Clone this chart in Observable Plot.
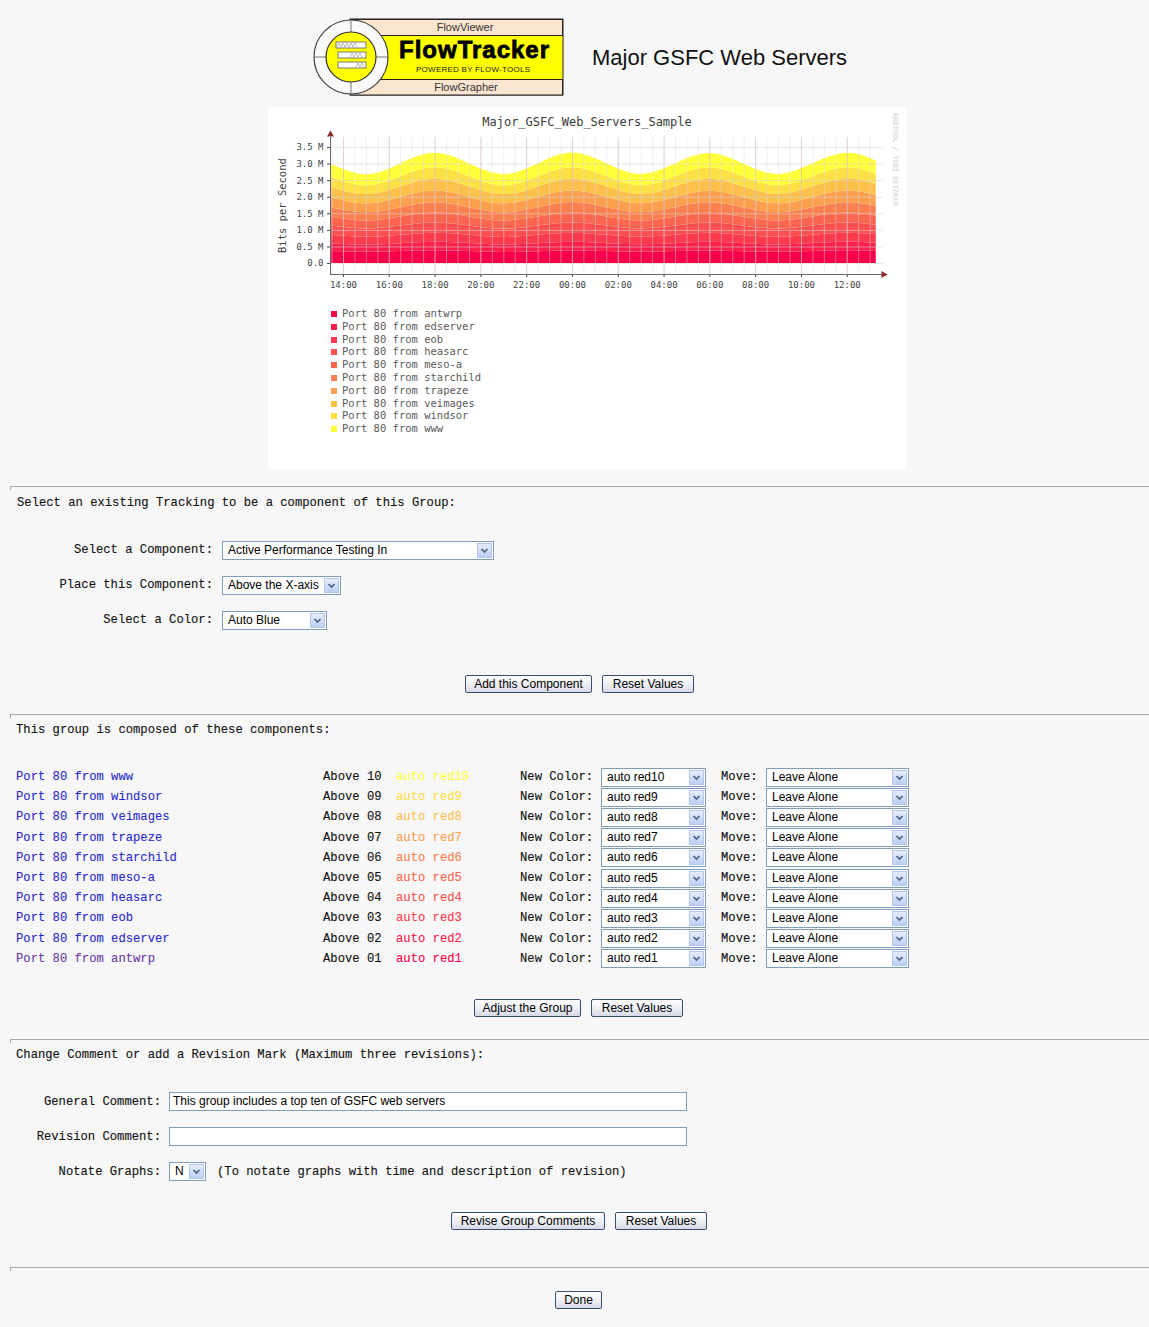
<!DOCTYPE html>
<html><head><meta charset="utf-8">
<script src="https://cdn.jsdelivr.net/npm/d3@7"></script>
<script src="https://cdn.jsdelivr.net/npm/@observablehq/plot@0.6"></script>
<style>
body{margin:0;background:#f7f7f7;width:1149px;height:1327px;position:relative;overflow:hidden;font-family:"Liberation Sans",Arial,sans-serif}
.abs{position:absolute}
.mono{position:absolute;font-family:"Liberation Mono","Courier New",monospace;font-size:12.2px;line-height:14px;color:#111;white-space:pre;-webkit-text-stroke:0.12px}
.hr{position:absolute;left:10px;width:1139px;height:3px;border-top:1px solid #a8a8a8;border-left:1px solid #a8a8a8}
.sel{position:absolute;height:19px;box-sizing:border-box;border:1px solid #7f9db9;background:#fff;font-size:12px;line-height:17px;color:#000}
.sel .t{position:absolute;left:5px;top:0;white-space:pre}
.sel .arr{position:absolute;right:1px;top:1px;width:15px;height:15px;background:linear-gradient(#e6edfc,#bccff5);border:1px solid #b4c6ec;box-sizing:border-box}
.btn{position:absolute;height:18px;box-sizing:border-box;border:1px solid #3c4c6c;border-radius:2px;background:linear-gradient(#ffffff,#eceef4 55%,#d6dae6);font-size:12px;line-height:16px;text-align:center;color:#000;white-space:pre}
.inp{position:absolute;height:19px;box-sizing:border-box;border:1px solid #7f9db9;background:#fff;font-size:12px;line-height:17px;padding-left:3px;white-space:pre;color:#000}
#chartbox{position:absolute;left:268px;top:107px;width:638px;height:363px;background:#fff}
.leg{position:absolute;left:63px;font-family:"DejaVu Sans Mono",monospace;font-size:10.5px;line-height:12.8px;color:#5a5a5a;white-space:pre}
.leg i{display:inline-block;width:6px;height:6px;margin-right:5px;vertical-align:0px}
</style></head><body>
<svg class="abs" style="left:300px;top:10px" width="280" height="95">
  <rect x="50" y="9" width="213" height="76" fill="#ffff00" stroke="#222" stroke-width="1"/>
  <rect x="50.5" y="9.5" width="212" height="16" fill="#fde6cf" stroke="#222" stroke-width="1"/>
  <rect x="50.5" y="69.5" width="212" height="15.5" fill="#fde6cf" stroke="#222" stroke-width="1"/>
  <text x="165" y="21" text-anchor="middle" font-family="Liberation Sans" font-size="11" fill="#333">FlowViewer</text>
  <text x="174" y="48" text-anchor="middle" font-family="Liberation Sans" font-weight="bold" font-size="24" fill="#000" stroke="#000" stroke-width="0.8" textLength="150">FlowTracker</text>
  <text x="173" y="62" text-anchor="middle" font-family="Liberation Sans" font-size="8" fill="#222" textLength="114">POWERED BY FLOW-TOOLS</text>
  <text x="166" y="81" text-anchor="middle" font-family="Liberation Sans" font-size="11" fill="#333">FlowGrapher</text>
  <circle cx="51" cy="47" r="37" fill="#fafafa" stroke="#444" stroke-width="1.2"/>
  <line x1="51" y1="10" x2="51" y2="22" stroke="#777"/>
  <line x1="51" y1="72" x2="51" y2="84" stroke="#777"/>
  <line x1="14" y1="47" x2="26" y2="47" stroke="#777"/>
  <line x1="76" y1="47" x2="88" y2="47" stroke="#777"/>
  <circle cx="51" cy="47" r="25" fill="#ffff00" stroke="#333" stroke-width="1.2"/>
  <rect x="36" y="32" width="30" height="6" fill="#fff" stroke="#777"/>
  <rect x="38" y="42" width="28" height="6" fill="#fff" stroke="#777"/>
  <rect x="38" y="52" width="28" height="6" fill="#fff" stroke="#777"/>
  <polyline points="37,37 39,33 41,37 43,33 45,37 47,33 49,37 51,33 53,37 55,33 57,37" fill="none" stroke="#999" stroke-width="0.7"/>
  <polyline points="50,47 52,43 54,47 56,43 58,47 60,43 62,47" fill="none" stroke="#999" stroke-width="0.7"/>
  <polyline points="56,57 58,53 60,57 62,53 64,57" fill="none" stroke="#999" stroke-width="0.7"/>
</svg>
<div class="abs" style="left:592px;top:44px;font-size:22px;line-height:28px;color:#111">Major GSFC Web Servers</div>

<div id="chartbox">
  <div class="abs" style="left:0;top:7px;width:638px;text-align:center;font-family:'DejaVu Sans Mono',monospace;font-size:12px;line-height:16px;color:#3a3a3a">Major_GSFC_Web_Servers_Sample</div>
  <div class="abs" style="left:6px;top:44px;width:16px;height:110px;font-family:'DejaVu Sans Mono',monospace;font-size:10.5px;color:#444;writing-mode:vertical-rl;transform:rotate(180deg);text-align:center;line-height:16px">Bits per Second</div>
  <div class="abs" style="left:622px;top:6px;font-family:'DejaVu Sans Mono',monospace;font-size:7px;color:#cfcfcf;writing-mode:vertical-rl;line-height:9px">RRDTOOL / TOBI OETIKER</div>
  <div id="plot" class="abs" style="left:0;top:23px"></div>
  <div id="legend" class="abs" style="left:0;top:200px"></div>
</div>
<div id="form"></div>

<script>
// ---------- data ----------
const servers = ["antwrp","edserver","eob","heasarc","meso-a","starchild","trapeze","veimages","windsor","www"];
const colorNames = ["auto red1","auto red2","auto red3","auto red4","auto red5","auto red6","auto red7","auto red8","auto red9","auto red10"];
const colors = ["#F8004A","#F9204C","#FA3A4E","#FB504F","#FB6650","#FB8050","#FCA050","#FCC04B","#FDE044","#FFFF3A"];
const times = ["2011-03-01T13:26","2011-03-01T15:00","2011-03-01T16:30","2011-03-01T18:00","2011-03-01T19:30","2011-03-01T21:00","2011-03-01T22:30","2011-03-02T00:00","2011-03-02T01:30","2011-03-02T03:00","2011-03-02T04:30","2011-03-02T06:00","2011-03-02T07:30","2011-03-02T09:00","2011-03-02T10:30","2011-03-02T12:00","2011-03-02T13:16"];
// Mbit/s per server, bottom layer first
const antwrp    = [0.36,0.34,0.36,0.385,0.36,0.335,0.355,0.38,0.36,0.34,0.36,0.38,0.355,0.34,0.36,0.385,0.365];
const edserver  = [0.24,0.22,0.24,0.26,0.245,0.22,0.24,0.26,0.24,0.225,0.24,0.26,0.24,0.22,0.245,0.26,0.245];
const eob       = [0.25,0.23,0.25,0.27,0.25,0.23,0.255,0.275,0.25,0.23,0.25,0.27,0.25,0.235,0.25,0.27,0.255];
const heasarc   = [0.28,0.25,0.28,0.31,0.28,0.25,0.28,0.31,0.285,0.25,0.28,0.31,0.28,0.25,0.28,0.31,0.29];
const mesoA     = [0.27,0.24,0.27,0.30,0.27,0.245,0.27,0.30,0.27,0.24,0.275,0.30,0.27,0.24,0.27,0.30,0.28];
const starchild = [0.28,0.25,0.28,0.31,0.28,0.25,0.28,0.315,0.28,0.25,0.28,0.31,0.28,0.25,0.28,0.31,0.29];
const trapeze   = [0.31,0.27,0.31,0.35,0.31,0.27,0.31,0.35,0.31,0.27,0.31,0.35,0.31,0.27,0.31,0.35,0.32];
const veimages  = [0.32,0.28,0.32,0.36,0.32,0.28,0.32,0.36,0.32,0.28,0.32,0.36,0.32,0.28,0.32,0.36,0.33];
const windsor   = [0.30,0.26,0.30,0.34,0.30,0.26,0.30,0.34,0.30,0.26,0.30,0.34,0.30,0.26,0.30,0.34,0.31];
const www       = [0.39,0.34,0.39,0.44,0.39,0.34,0.39,0.44,0.39,0.34,0.39,0.44,0.39,0.34,0.39,0.44,0.40];
const series = [antwrp,edserver,eob,heasarc,mesoA,starchild,trapeze,veimages,windsor,www];
const xTicks = ["2011-03-01T14:00","2011-03-01T16:00","2011-03-01T18:00","2011-03-01T20:00","2011-03-01T22:00","2011-03-02T00:00","2011-03-02T02:00","2011-03-02T04:00","2011-03-02T06:00","2011-03-02T08:00","2011-03-02T10:00","2011-03-02T12:00"];
const xAxisEnd = "2011-03-02T13:35";
const yTicks = [0,0.5,1,1.5,2,2.5,3,3.5];
const yDomain = [-0.33, 3.8];

// ---------- chart ----------
const P = s => new Date(s + ":00");
const rows = [];
series.forEach((vals,i) => vals.forEach((v,j) => rows.push({server: servers[i], time: P(times[j]), value: v})));
const t0 = P(times[0]), tEnd = P(xAxisEnd);
const majorTicks = xTicks.map(P);
const minorGrid = d3.timeMinute.every(30).range(P("2011-03-01T13:30"), P("2011-03-02T13:10"));

const chart = Plot.plot({
  width: 638, height: 170,
  marginLeft: 62, marginRight: 23, marginTop: 7, marginBottom: 26,
  style: {fontFamily: "DejaVu Sans Mono, monospace", fontSize: "9px", color: "#444", background: "transparent", overflow: "visible"},
  x: {type: "time", domain: [t0, tEnd], ticks: majorTicks, tickFormat: d3.timeFormat("%H:%M"), tickSize: 3, tickPadding: 4, label: null},
  y: {domain: yDomain, ticks: yTicks, tickFormat: d => d === 0 ? "0.0" : d.toFixed(1) + " M", tickSize: 3, tickPadding: 4, label: null},
  color: {domain: servers, range: colors},
  marks: [
    Plot.areaY(rows, {x: "time", y: "value", z: "server", fill: "server", curve: "natural", order: servers}),
    Plot.ruleX(minorGrid, {stroke: "#dcdcdc", strokeOpacity: 0.45}),
    Plot.ruleX(majorTicks, {stroke: "#dcb4b4", strokeOpacity: 0.5}),
    Plot.ruleY(yTicks, {stroke: "#d6d6d6", strokeOpacity: 0.55}),
    Plot.ruleY([yDomain[0]], {stroke: "#666", strokeWidth: 1}),
    Plot.ruleX([t0], {stroke: "#666", strokeWidth: 1}),
    Plot.dot([{x: tEnd, y: yDomain[0]}], {x: "x", y: "y", symbol: "triangle", rotate: 90, r: 2.6, fill: "#8b2a2a", stroke: null}),
    Plot.dot([{x: t0, y: yDomain[1]}], {x: "x", y: "y", symbol: "triangle", rotate: 0, r: 2.6, dy: -3, fill: "#8b2a2a", stroke: null})
  ]
});
document.getElementById("plot").appendChild(chart);

// legend
const leg = document.getElementById("legend");
servers.forEach((s,i) => {
  const d = document.createElement("div");
  d.className = "leg";
  d.style.top = (i * 12.8) + "px";
  d.innerHTML = `<i style="background:${colors[i]}"></i>Port 80 from ${s}`;
  leg.appendChild(d);
});

// ---------- form ----------
const form = document.getElementById("form");
const chev = '<svg width="13" height="13" style="position:absolute;left:0;top:0"><path d="M3.5 5 L6.5 8 L9.5 5" stroke="#4d6185" stroke-width="1.7" fill="none"/></svg>';
function el(html){ const t = document.createElement("div"); t.innerHTML = html; const n = t.firstChild; form.appendChild(n); return n; }
function txt(s, x, cy, color){ el(`<div class="mono" style="left:${x}px;top:${cy-7}px;color:${color||'#111'}">${s}</div>`); }
function txtR(s, rx, cy){ el(`<div class="mono" style="left:0;width:${rx}px;text-align:right;top:${cy-7}px">${s}</div>`); }
function sel(s, x, top, w){ el(`<div class="sel" style="left:${x}px;top:${top}px;width:${w}px"><span class="t">${s}</span><span class="arr">${chev}</span></div>`); }
function btn(s, x, top, w){ el(`<div class="btn" style="left:${x}px;top:${top}px;width:${w}px">${s}</div>`); }
function inp(s, x, top, w){ el(`<div class="inp" style="left:${x}px;top:${top}px;width:${w}px">${s}</div>`); }
function hr(y){ el(`<div class="hr" style="top:${y}px"></div>`); }

hr(486);
txt("Select an existing Tracking to be a component of this Group:", 17, 503);
txtR("Select a Component:", 213, 550); sel("Active Performance Testing In", 222, 541, 272);
txtR("Place this Component:", 213, 585); sel("Above the X-axis", 222, 576, 119);
txtR("Select a Color:", 213, 620); sel("Auto Blue", 222, 611, 105);
btn("Add this Component", 465, 675, 127); btn("Reset Values", 602, 675, 92);

hr(714);
txt("This group is composed of these components:", 16, 730);
for (let k = 0; k < servers.length; k++) {
  const i = servers.length - 1 - k;
  const cy = 777 + k * 20.2;
  txt("Port 80 from " + servers[i], 16, cy, i === 0 ? "#6a3aa0" : "#2b2bcc");
  txt("Above " + String(i + 1).padStart(2, "0"), 323, cy);
  txt(colorNames[i], 396, cy, colors[i]);
  txt("New Color:", 520, cy);
  sel(colorNames[i], 601, Math.round(cy - 9.5), 105);
  txt("Move:", 721, cy);
  sel("Leave Alone", 766, Math.round(cy - 9.5), 143);
}
btn("Adjust the Group", 474, 999, 107); btn("Reset Values", 591, 999, 92);

hr(1039);
txt("Change Comment or add a Revision Mark (Maximum three revisions):", 16, 1055);
txtR("General Comment:", 161, 1102); inp("This group includes a top ten of GSFC web servers", 169, 1092, 518);
txtR("Revision Comment:", 161, 1137); inp("", 169, 1127, 518);
txtR("Notate Graphs:", 161, 1172); sel("N", 169, 1162, 37);
txt("(To notate graphs with time and description of revision)", 217, 1172);
btn("Revise Group Comments", 451, 1212, 154); btn("Reset Values", 615, 1212, 92);

hr(1267);
btn("Done", 555, 1291, 47);
</script>
</body></html>
